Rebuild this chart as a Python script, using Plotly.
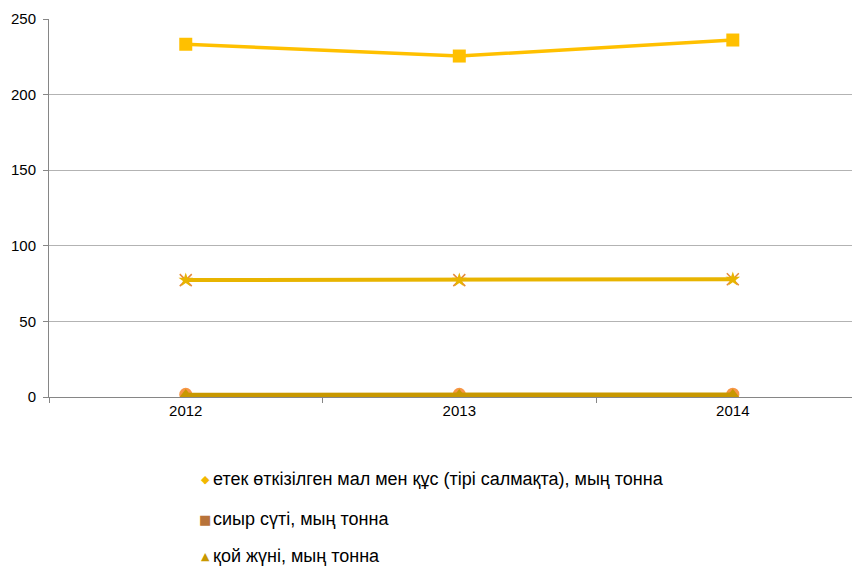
import plotly.graph_objects as go

years = ["2012", "2013", "2014"]
milk = [233.3, 225.5, 236.1]          # squares
meat = [77.3, 77.3, 77.9]             # stars
circles = [1.8, 1.8, 1.9]
wool = [1.3, 1.4, 1.5]                # triangles

legend_names = [
    "етек өткізілген мал мен құс (тірі салмақта), мың тонна",
    "сиыр сүті, мың тонна",
    "қой жүні, мың тонна",
]
legend_glyphs = ["◆", "■", "▲"]
legend_colors = ["#F2B800", "#B8733A", "#C89800"]

# page has an 8px body margin; figure coordinates = page - 8
OFF = 8
W, H = 860 - OFF, 566 - OFF
ML, MR, MT = 49 - OFF, 0, 19 - OFF
PLOT_BOTTOM = 397 - OFF
MB = H - PLOT_BOTTOM

fig = go.Figure()

fig.add_trace(go.Scatter(x=years, y=milk, mode="lines+markers",
                         line=dict(color="#FFC000", width=3.5),
                         marker=dict(symbol="square", size=13, color="#FFC000"),
                         showlegend=False))
fig.add_trace(go.Scatter(x=years, y=meat, mode="lines",
                         line=dict(color="#E8B400", width=4),
                         showlegend=False))
fig.add_trace(go.Scatter(x=years, y=meat, mode="markers",
                         marker=dict(symbol="x-thin-open", size=12, color="#E58A3A",
                                     line=dict(color="#E58A3A", width=1.5)),
                         showlegend=False))
fig.add_trace(go.Scatter(x=years, y=meat, mode="markers",
                         marker=dict(symbol="star", size=11, color="#E8B400"),
                         showlegend=False))
fig.add_trace(go.Scatter(x=years, y=circles, mode="markers",
                         marker=dict(symbol="circle", size=13, color="#F79646"),
                         showlegend=False))
fig.add_trace(go.Scatter(x=years, y=wool, mode="lines+markers",
                         line=dict(color="#C89800", width=4.5),
                         marker=dict(symbol="triangle-up", size=12, color="#C89800"),
                         showlegend=False))

ph = H - MT - MB
def py(page_y):
    return (PLOT_BOTTOM - (page_y - OFF)) / ph

def px(page_x):
    return ((page_x - OFF) - ML) / (W - ML - MR)

annotations = []
item_y = [479, 519, 556]
for nm, g, col, yy in zip(legend_names, legend_glyphs, legend_colors, item_y):
    annotations.append(dict(xref="paper", yref="paper", x=px(205), y=py(yy),
                            xanchor="center", yanchor="middle", showarrow=False,
                            text=g, font=dict(size=11 if g != "■" else 13, color=col,
                                              family="DejaVu Sans")))
    annotations.append(dict(xref="paper", yref="paper", x=px(211), y=py(yy),
                            xanchor="left", yanchor="middle", showarrow=False,
                            text=nm, font=dict(size=18, color="#000000")))

fig.update_layout(
    width=W, height=H,
    margin=dict(l=ML, r=MR, t=MT, b=MB),
    paper_bgcolor="white", plot_bgcolor="white",
    font=dict(family="Liberation Sans, Arial", color="#000000"),
    showlegend=False,
    xaxis=dict(type="category", range=[-0.5, 2.465], tickson="boundaries",
               ticks="outside", ticklen=5, tickcolor="#868686",
               showline=True, linecolor="#868686", linewidth=1,
               showgrid=False, zeroline=False, automargin=False,
               tickfont=dict(size=15)),
    yaxis=dict(range=[0, 250], dtick=50, ticks="outside", ticklen=5,
               tickcolor="#868686", showline=True, linecolor="#868686",
               showgrid=True, gridcolor="#B3B3B3", gridwidth=1,
               zeroline=False, automargin=False, ticklabelstandoff=4,
               tickfont=dict(size=15)),
    annotations=annotations,
)

fig.write_html("out.html")
